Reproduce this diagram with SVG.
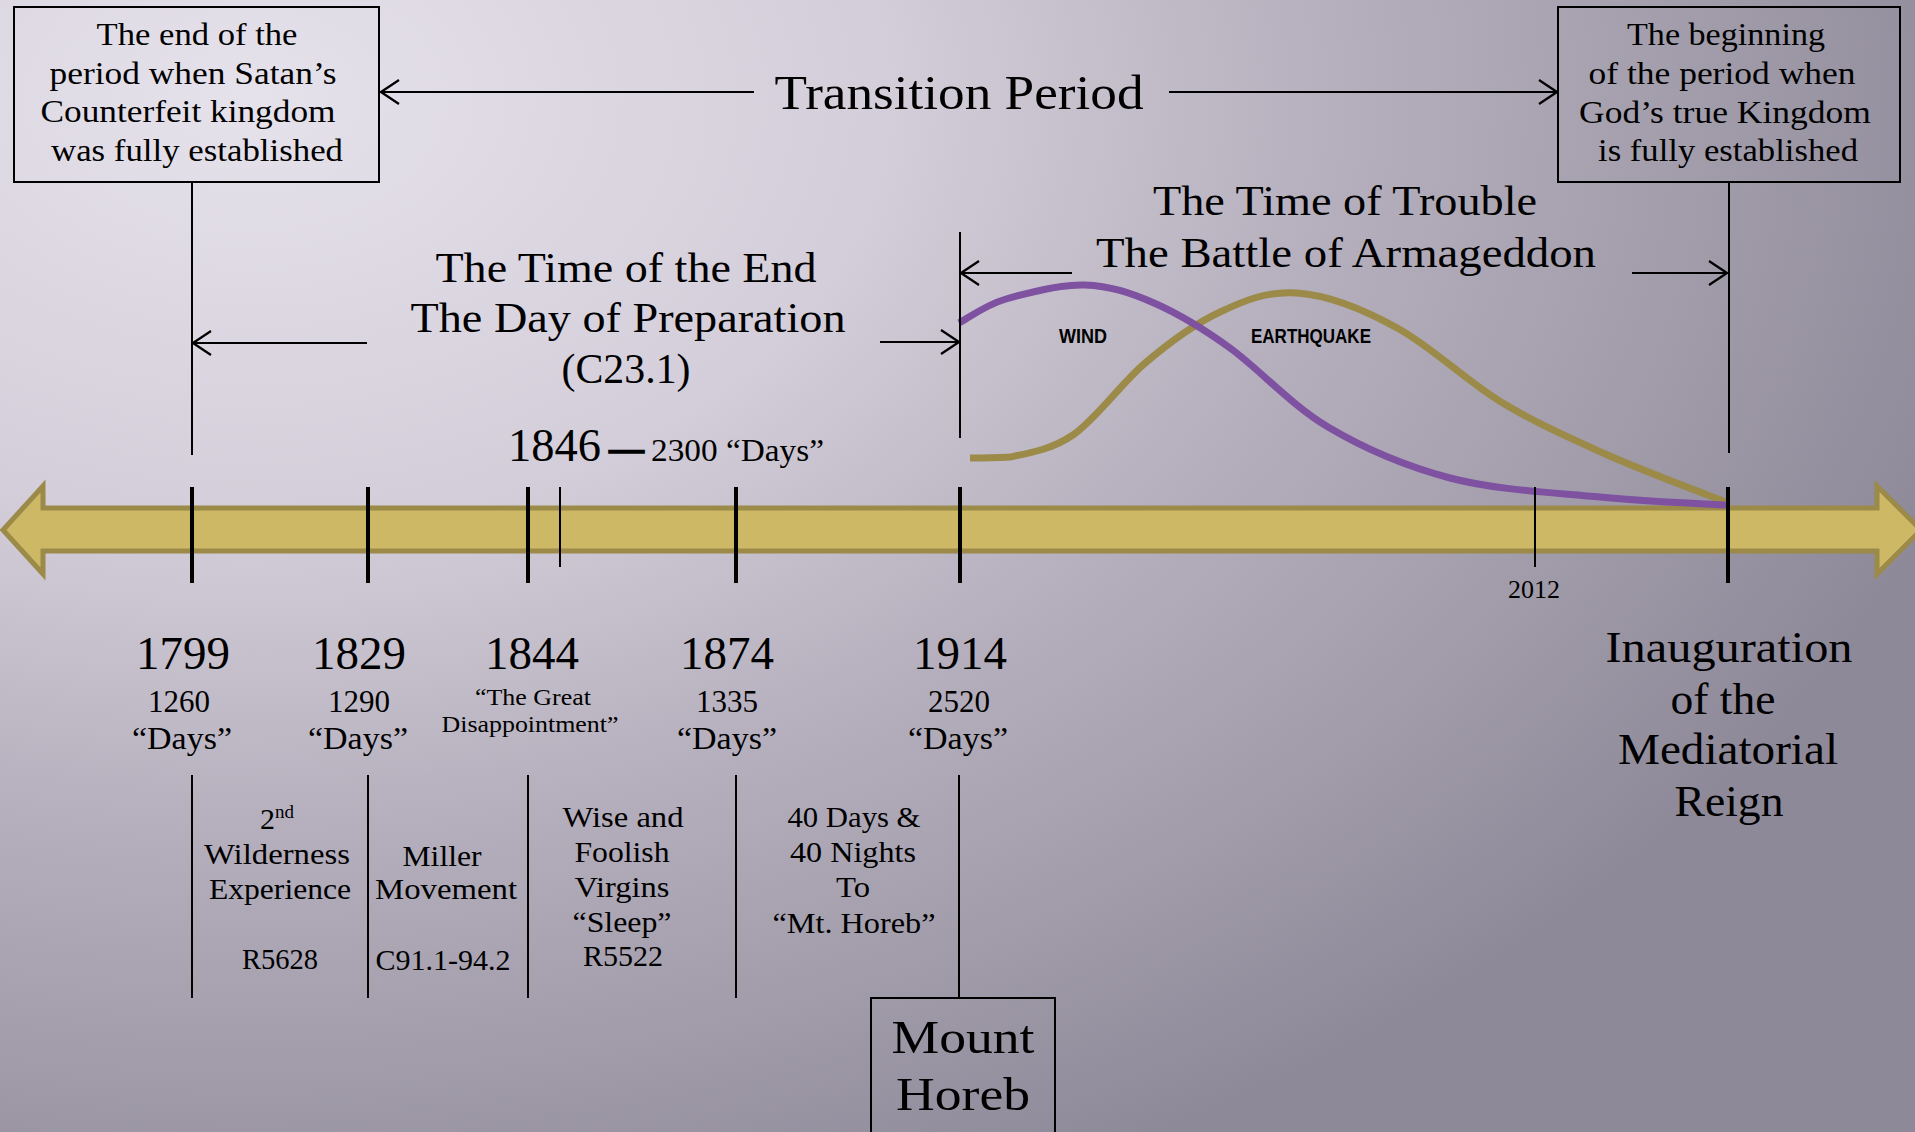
<svg xmlns="http://www.w3.org/2000/svg" width="1915" height="1132" viewBox="0 0 1915 1132">
<defs>
<radialGradient id="bg" gradientUnits="userSpaceOnUse" cx="250" cy="100" r="1800" gradientTransform="translate(250 100) scale(1 0.667) translate(-250 -100)">
<stop offset="0" stop-color="#e6e2ec"/>
<stop offset="0.35" stop-color="#d3ced9"/>
<stop offset="0.6" stop-color="#b6b0be"/>
<stop offset="1" stop-color="#8e8998"/>
</radialGradient>
<marker id="ah" viewBox="0 0 20 26" refX="19" refY="13" markerWidth="20" markerHeight="26" markerUnits="userSpaceOnUse" orient="auto-start-reverse">
<path d="M1,1 L19,13 L1,25" fill="none" stroke="#000" stroke-width="2.2"/>
</marker>
<style>
text{font-family:"Liberation Serif","Times New Roman",serif;fill:#000}
.box{font-size:31px;text-anchor:middle}
.head{font-size:43px;text-anchor:middle}
.year{font-size:47px;text-anchor:middle}
.days{font-size:31px;text-anchor:middle}
.col{font-size:30px;text-anchor:middle}
.big{font-size:44px;text-anchor:middle}
.lbl{font-family:"Liberation Sans",Arial,sans-serif;font-weight:bold;font-size:20px;text-anchor:middle}
.frame{fill:none;stroke:#000;stroke-width:2}
.conn{stroke:#000;stroke-width:2;fill:none}
.arr{stroke:#000;stroke-width:2;fill:none;marker-end:url(#ah)}
.tick{stroke:#000;stroke-width:4}
.thin{stroke:#000;stroke-width:2}
</style>
</defs>
<rect x="0" y="0" width="1915" height="1132" fill="url(#bg)"/>

<g id="timeline">
<path d="M3,530 L43,486 L43,508 L1877,508 L1877,486 L1921,530 L1877,574 L1877,551 L43,551 L43,574 Z" fill="#cdb866" stroke="#9b8a48" stroke-width="5" stroke-linejoin="miter"/>
</g>

<g id="curves">
<path id="earthquake-curve" d="M970,458 C977,458 993,458 1010,457 C1027,453.5 1051,450 1073,435 C1095,420 1120,385 1144,364 C1168.5,343 1194.5,324 1220,312 C1245.5,300 1267,291 1297,293 C1327,295 1365,310 1399,329 C1433,348 1467,381.5 1501,402 C1535,422.5 1565.5,436 1603,453 C1640.5,470 1705.5,494 1726,502" fill="none" stroke="#9b8a48" stroke-width="7"/>
<path id="wind-curve" d="M959,323 C967,319 985,305 1006,299 C1027,293 1060,284 1085,285 C1110,286 1130,292.5 1154,303 C1178,313.5 1201,327 1230,348 C1259,369 1291,405 1328,427 C1365,449 1405,466 1450,478 C1495,490 1554,492.5 1600,497 C1646,501.5 1705,504 1726,505" fill="none" stroke="#7e51a1" stroke-width="7"/>
<text class="lbl" x="1083" y="343" textLength="48" lengthAdjust="spacingAndGlyphs">WIND</text>
<text class="lbl" x="1311" y="343" textLength="120" lengthAdjust="spacingAndGlyphs">EARTHQUAKE</text>
</g>

<g id="connectors">
<line class="conn" x1="192" y1="182" x2="192" y2="455"/>
<line class="conn" x1="1729" y1="182" x2="1729" y2="453"/>
<line class="conn" x1="960" y1="232" x2="960" y2="438"/>
<line class="arr" x1="754" y1="92" x2="381" y2="92"/>
<line class="arr" x1="1169" y1="92" x2="1557" y2="92"/>
<line class="arr" x1="367" y1="343" x2="193" y2="343"/>
<line class="arr" x1="880" y1="342" x2="959" y2="342"/>
<line class="arr" x1="1072" y1="273" x2="961" y2="273"/>
<line class="arr" x1="1632" y1="273" x2="1727" y2="273"/>
<line class="tick" x1="192" y1="487" x2="192" y2="583"/>
<line class="tick" x1="368" y1="487" x2="368" y2="583"/>
<line class="tick" x1="528" y1="487" x2="528" y2="583"/>
<line class="thin" x1="560" y1="487" x2="560" y2="567"/>
<line class="tick" x1="736" y1="487" x2="736" y2="583"/>
<line class="tick" x1="960" y1="487" x2="960" y2="583"/>
<line class="thin" x1="1535" y1="487" x2="1535" y2="567"/>
<line class="tick" x1="1728" y1="487" x2="1728" y2="583"/>
<line class="conn" x1="192" y1="775" x2="192" y2="998"/>
<line class="conn" x1="368" y1="775" x2="368" y2="998"/>
<line class="conn" x1="528" y1="775" x2="528" y2="998"/>
<line class="conn" x1="736" y1="775" x2="736" y2="998"/>
<line class="conn" x1="959" y1="775" x2="959" y2="998"/>
</g>

<g id="satan-box">
<rect class="frame" x="14" y="7" width="365" height="175"/>
<text class="box" x="197" y="45" textLength="201" lengthAdjust="spacingAndGlyphs">The end of the</text>
<text class="box" x="193" y="84" textLength="287" lengthAdjust="spacingAndGlyphs">period when Satan’s</text>
<text class="box" x="188" y="122" textLength="295" lengthAdjust="spacingAndGlyphs">Counterfeit kingdom</text>
<text class="box" x="197" y="161" textLength="292" lengthAdjust="spacingAndGlyphs">was fully established</text>
</g>

<g id="god-box">
<rect class="frame" x="1558" y="7" width="342" height="175"/>
<text class="box" x="1726" y="45" textLength="198" lengthAdjust="spacingAndGlyphs">The beginning</text>
<text class="box" x="1722" y="84" textLength="267" lengthAdjust="spacingAndGlyphs">of the period when</text>
<text class="box" x="1725" y="123" textLength="292" lengthAdjust="spacingAndGlyphs">God’s true Kingdom</text>
<text class="box" x="1728" y="161" textLength="260" lengthAdjust="spacingAndGlyphs">is fully established</text>
</g>

<g id="transition-period">
<text class="head" x="959" y="109" style="font-size:48px" textLength="369" lengthAdjust="spacingAndGlyphs">Transition Period</text>
</g>

<g id="time-of-end">
<text class="head" x="626" y="282" textLength="381" lengthAdjust="spacingAndGlyphs">The Time of the End</text>
<text class="head" x="628" y="332" textLength="435" lengthAdjust="spacingAndGlyphs">The Day of Preparation</text>
<text class="head" x="626" y="383" textLength="129" lengthAdjust="spacingAndGlyphs">(C23.1)</text>
</g>

<g id="time-of-trouble">
<text class="head" x="1345" y="215" textLength="384" lengthAdjust="spacingAndGlyphs">The Time of Trouble</text>
<text class="head" x="1346" y="267" textLength="500" lengthAdjust="spacingAndGlyphs">The Battle of Armageddon</text>
</g>

<g id="label-1846">
<text x="508" y="461" style="font-size:47px" textLength="93" lengthAdjust="spacingAndGlyphs">1846</text>
<text x="609" y="463" style="font-size:47px;stroke:#000;stroke-width:1.6" textLength="35" lengthAdjust="spacingAndGlyphs">—</text>
<text x="651" y="461" style="font-size:31px" textLength="173" lengthAdjust="spacingAndGlyphs">2300 “Days”</text>
</g>

<g id="y1799">
<text class="year" x="183" y="669">1799</text>
<text class="days" x="179" y="712">1260</text>
<text class="days" x="182" y="749" style="font-size:32px" textLength="100" lengthAdjust="spacingAndGlyphs">“Days”</text>
</g>
<g id="y1829">
<text class="year" x="359" y="669">1829</text>
<text class="days" x="359" y="712">1290</text>
<text class="days" x="358" y="749" style="font-size:32px" textLength="100" lengthAdjust="spacingAndGlyphs">“Days”</text>
</g>
<g id="y1844">
<text class="year" x="532" y="669">1844</text>
<text class="days" x="533" y="705" style="font-size:24px" textLength="116" lengthAdjust="spacingAndGlyphs">“The Great</text>
<text class="days" x="530" y="732" style="font-size:24px" textLength="177" lengthAdjust="spacingAndGlyphs">Disappointment”</text>
</g>
<g id="y1874">
<text class="year" x="727" y="669">1874</text>
<text class="days" x="727" y="712">1335</text>
<text class="days" x="727" y="749" style="font-size:32px" textLength="100" lengthAdjust="spacingAndGlyphs">“Days”</text>
</g>
<g id="y1914">
<text class="year" x="960" y="669">1914</text>
<text class="days" x="959" y="712">2520</text>
<text class="days" x="958" y="749" style="font-size:32px" textLength="100" lengthAdjust="spacingAndGlyphs">“Days”</text>
</g>
<g id="y2012">
<text class="days" x="1534" y="598" style="font-size:26px">2012</text>
</g>

<g id="inauguration">
<text class="big" x="1729" y="662" textLength="247" lengthAdjust="spacingAndGlyphs">Inauguration</text>
<text class="big" x="1723" y="714" textLength="105" lengthAdjust="spacingAndGlyphs">of the</text>
<text class="big" x="1728" y="764" textLength="220" lengthAdjust="spacingAndGlyphs">Mediatorial</text>
<text class="big" x="1729" y="816" textLength="109" lengthAdjust="spacingAndGlyphs">Reign</text>
</g>

<g id="col-wilderness">
<text class="col" x="277" y="829">2<tspan style="font-size:19px" dy="-11">nd</tspan></text>
<text class="col" x="277" y="864" textLength="146" lengthAdjust="spacingAndGlyphs">Wilderness</text>
<text class="col" x="280" y="899" textLength="142" lengthAdjust="spacingAndGlyphs">Experience</text>
<text class="col" x="280" y="969" textLength="76" lengthAdjust="spacingAndGlyphs">R5628</text>
</g>
<g id="col-miller">
<text class="col" x="442" y="866" textLength="79" lengthAdjust="spacingAndGlyphs">Miller</text>
<text class="col" x="446" y="899" textLength="142" lengthAdjust="spacingAndGlyphs">Movement</text>
<text class="col" x="443" y="970" textLength="135" lengthAdjust="spacingAndGlyphs">C91.1-94.2</text>
</g>
<g id="col-virgins">
<text class="col" x="623" y="827" textLength="121" lengthAdjust="spacingAndGlyphs">Wise and</text>
<text class="col" x="622" y="862" textLength="95" lengthAdjust="spacingAndGlyphs">Foolish</text>
<text class="col" x="622" y="897" textLength="95" lengthAdjust="spacingAndGlyphs">Virgins</text>
<text class="col" x="622" y="932" textLength="99" lengthAdjust="spacingAndGlyphs">“Sleep”</text>
<text class="col" x="623" y="966" textLength="80" lengthAdjust="spacingAndGlyphs">R5522</text>
</g>
<g id="col-horeb">
<text class="col" x="854" y="827" textLength="133" lengthAdjust="spacingAndGlyphs">40 Days &amp;</text>
<text class="col" x="853" y="862" textLength="126" lengthAdjust="spacingAndGlyphs">40 Nights</text>
<text class="col" x="853" y="897" textLength="34" lengthAdjust="spacingAndGlyphs">To</text>
<text class="col" x="854" y="933" textLength="163" lengthAdjust="spacingAndGlyphs">“Mt. Horeb”</text>
</g>

<g id="mount-horeb">
<rect class="frame" x="871" y="998" width="184" height="150"/>
<text class="big" x="963" y="1053" style="font-size:47px" textLength="143" lengthAdjust="spacingAndGlyphs">Mount</text>
<text class="big" x="963" y="1110" style="font-size:47px" textLength="134" lengthAdjust="spacingAndGlyphs">Horeb</text>
</g>
</svg>
